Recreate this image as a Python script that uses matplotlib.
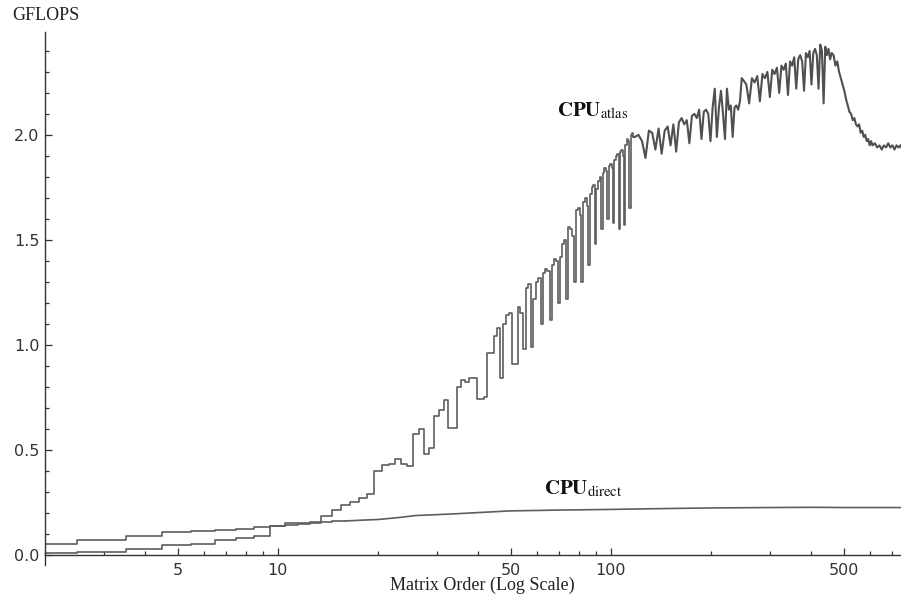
import matplotlib
matplotlib.use('Agg')
import matplotlib.pyplot as plt
from matplotlib.ticker import FixedLocator, NullFormatter

plt.rcParams['mathtext.fontset'] = 'stix'

# ---- data ----
# CPU direct: GFLOPS vs matrix order
direct_n = [2, 3, 4, 5, 6, 7, 8, 9, 10, 11, 12, 13, 14, 15, 16, 18, 20, 23, 26,
            30, 35, 40, 50, 60, 70, 80, 100, 130, 160, 200, 300, 400, 500, 600, 745]
direct_gflops = [0.052, 0.070, 0.090, 0.105, 0.112, 0.118, 0.124, 0.130, 0.135,
                 0.140, 0.147, 0.152, 0.155, 0.158, 0.160, 0.164, 0.167, 0.176,
                 0.186, 0.190, 0.195, 0.200, 0.208, 0.210, 0.212, 0.213, 0.215,
                 0.218, 0.220, 0.222, 0.224, 0.225, 0.224, 0.224, 0.224]

# CPU atlas: every order up to 117, then sampled
atlas_n = (list(range(2, 118)) + list(range(118, 250, 3)) + list(range(250, 461, 5))
           + list(range(466, 611, 6)) + [620, 630, 640, 650, 660, 670, 680, 690,
                                         700, 710, 720, 730, 740, 745])
atlas_gflops = [
    # 2 - 19
    0.005, 0.010, 0.028, 0.047, 0.050, 0.067, 0.080, 0.090, 0.135, 0.152,
    0.148, 0.157, 0.185, 0.210, 0.235, 0.250, 0.268, 0.287,
    # 20 - 39
    0.400, 0.425, 0.433, 0.457, 0.433, 0.424, 0.576, 0.600, 0.480, 0.510,
    0.660, 0.690, 0.735, 0.605, 0.605, 0.800, 0.830, 0.820, 0.840, 0.840,
    # 40 - 59
    0.740, 0.740, 0.750, 0.960, 0.960, 1.040, 1.080, 0.840, 1.100, 1.140,
    1.150, 0.910, 0.910, 1.180, 1.150, 0.980, 1.270, 1.290, 0.990, 1.220,
    # 60 - 79
    1.300, 1.320, 1.100, 1.340, 1.360, 1.350, 1.120, 1.380, 1.410, 1.400,
    1.200, 1.420, 1.480, 1.500, 1.220, 1.560, 1.550, 1.520, 1.300, 1.640,
    # 80 - 99
    1.650, 1.620, 1.300, 1.680, 1.700, 1.660, 1.380, 1.720, 1.750, 1.760,
    1.480, 1.740, 1.780, 1.800, 1.550, 1.820, 1.840, 1.830, 1.600, 1.850,
    # 100 - 117
    1.860, 1.840, 1.580, 1.880, 1.900, 1.910, 1.550, 1.920, 1.930, 1.900,
    1.570, 1.950, 1.980, 1.970, 1.650, 2.000, 2.010, 1.990,
    # 118 - 247 (step 3)
    1.99, 2.00, 1.97, 1.89, 2.02, 2.01, 1.93, 2.03, 1.91, 2.02,
    2.04, 1.95, 2.05, 1.92, 2.06, 2.08, 2.05, 2.07, 1.96, 2.09,
    2.10, 2.08, 2.12, 1.98, 2.11, 2.12, 2.10, 1.97, 2.13, 2.22,
    1.99, 2.13, 2.21, 2.10, 1.98, 2.22, 2.12, 2.14, 1.99, 2.13,
    2.14, 2.12, 2.16, 2.27,
    # 250 - 460 (step 5)
    2.26, 2.24, 2.15, 2.27, 2.25, 2.28, 2.16, 2.29, 2.27, 2.30,
    2.18, 2.31, 2.29, 2.32, 2.20, 2.33, 2.31, 2.34, 2.19, 2.35,
    2.33, 2.37, 2.22, 2.36, 2.38, 2.35, 2.21, 2.39, 2.37, 2.40,
    2.24, 2.39, 2.41, 2.38, 2.22, 2.43, 2.40, 2.15, 2.42, 2.38,
    2.41, 2.36, 2.39,
    # 466 - 610 (step 6)
    2.38, 2.33, 2.35, 2.30, 2.27, 2.24, 2.21, 2.17, 2.14, 2.11,
    2.10, 2.07, 2.08, 2.05, 2.04, 2.05, 2.01, 2.02, 1.99, 2.00,
    1.97, 1.98, 1.95, 1.97, 1.95,
    # 620 - 745
    1.96, 1.94, 1.95, 1.93, 1.95, 1.94, 1.96, 1.94, 1.95, 1.93,
    1.95, 1.94, 1.95, 1.94,
]

x_major = [5, 10, 50, 100, 500]
x_minor = [2, 3, 4, 6, 7, 8, 9, 20, 30, 40, 60, 70, 80, 90, 200, 300, 400, 600, 700]
y_major = [0.0, 0.5, 1.0, 1.5, 2.0]
y_minor = [0.1, 0.2, 0.3, 0.4, 0.6, 0.7, 0.8, 0.9, 1.1, 1.2, 1.3, 1.4,
           1.6, 1.7, 1.8, 1.9, 2.1, 2.2, 2.3, 2.4]

fig = plt.figure(figsize=(9.01, 6.0), dpi=100)
ax = fig.add_axes([0.0499, 0.0583, 0.9506, 0.8883])

line_col = '#5e5e5e'
# small orders are drawn as steps (one value per integer order), the rest as a line
ka = atlas_n.index(117)
ax.plot(atlas_n[:ka + 1], atlas_gflops[:ka + 1], drawstyle='steps-mid',
        color=line_col, lw=1.2)
ax.plot(atlas_n[ka:], atlas_gflops[ka:], color='#505050', lw=1.5)
kd = direct_n.index(16)
ax.plot(direct_n[:kd + 1], direct_gflops[:kd + 1], drawstyle='steps-mid',
        color=line_col, lw=1.2)
ax.plot(direct_n[kd:], direct_gflops[kd:], color=line_col, lw=1.2)

ax.set_xscale('log')
ax.set_xlim(2, 745)
ax.set_ylim(-0.05, 2.49)

for s in ('top', 'right'):
    ax.spines[s].set_visible(False)
ax.spines['bottom'].set_position(('data', 0))
for s in ('left', 'bottom'):
    ax.spines[s].set_color('#333333')
    ax.spines[s].set_linewidth(1.0)

ax.xaxis.set_major_locator(FixedLocator(x_major))
ax.xaxis.set_minor_locator(FixedLocator(x_minor))
ax.xaxis.set_minor_formatter(NullFormatter())
ax.set_xticklabels([str(v) for v in x_major])
ax.yaxis.set_major_locator(FixedLocator(y_major))
ax.yaxis.set_minor_locator(FixedLocator(y_minor))
ax.set_yticklabels(['%.1f' % v for v in y_major])

ax.tick_params(which='both', direction='in', color='#333333', width=0.9,
               labelsize=11.5, labelcolor='#333333')
ax.tick_params(which='major', length=5)
ax.tick_params(which='minor', length=3)
ax.tick_params(axis='x', which='major', pad=6)
ax.tick_params(axis='y', which='major', pad=4)

serif = ['Liberation Serif', 'DejaVu Serif']
fig.text(46 / 901, 1 - 15 / 600, 'GFLOPS', family=serif, fontsize=13,
         ha='center', va='center', color='#222222')
fig.text(482 / 901, 1 - 585 / 600, 'Matrix Order (Log Scale)', family=serif,
         fontsize=13, ha='center', va='center', color='#222222')

ax.text(69, 2.09, r'$\mathbf{CPU}_{\mathrm{atlas}}$', fontsize=15,
        ha='left', va='baseline', color='#111111')
ax.text(63, 0.287, r'$\mathbf{CPU}_{\mathrm{direct}}$', fontsize=15,
        ha='left', va='baseline', color='#111111')

fig.savefig('out.png', dpi=100)
